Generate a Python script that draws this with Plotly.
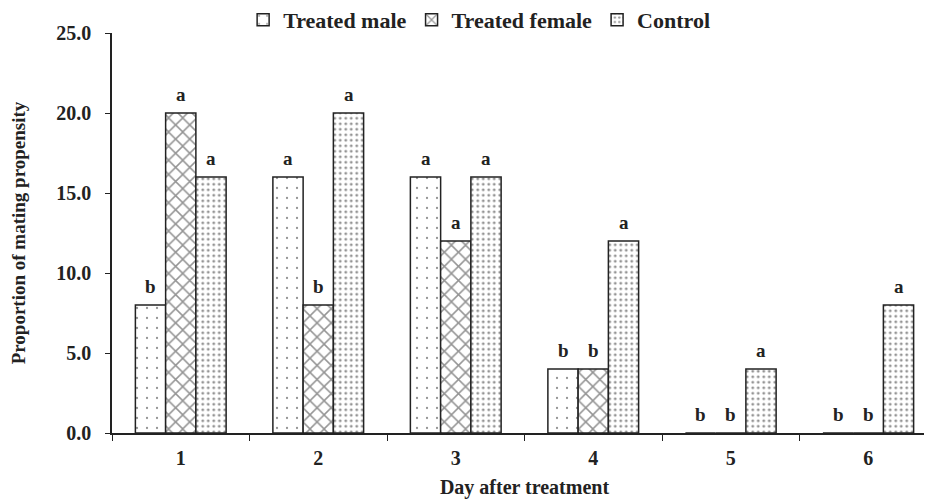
import plotly.graph_objects as go

days = ["1", "2", "3", "4", "5", "6"]
treated_male = [8, 16, 16, 4, 0, 0]
treated_female = [20, 8, 12, 4, 0, 0]
control = [16, 20, 16, 12, 4, 8]

male_letters = ["b", "a", "a", "b", "b", "b"]
female_letters = ["a", "b", "a", "b", "b", "b"]
control_letters = ["a", "a", "a", "a", "a", "a"]

y_ticks = [0, 5, 10, 15, 20, 25]

FONT = "Liberation Serif, Times New Roman, serif"
BARGAP = 0.34

series = [
    ("Treated male", treated_male, male_letters, dict(shape=".", size=10, solidity=0.04)),
    ("Treated female", treated_female, female_letters, dict(shape="x", size=10, solidity=0.28)),
    ("Control", control, control_letters, dict(shape=".", size=5.5, solidity=0.22)),
]

fig = go.Figure()
bar_w = (1 - BARGAP) / len(series)
annotations = []

for i, (name, vals, letters, pat) in enumerate(series):
    fig.add_trace(go.Bar(
        x=days, y=vals, name=name,
        marker=dict(
            color="white",
            line=dict(color="#222222", width=1.5),
            pattern=dict(fgcolor="#2a2a2a", bgcolor="white", fillmode="overlay", **pat),
        ),
    ))
    offset = (i - (len(series) - 1) / 2) * bar_w
    for j, (v, lab) in enumerate(zip(vals, letters)):
        annotations.append(dict(
            x=j + offset, y=v, xref="x", yref="y", text="<b>%s</b>" % lab,
            showarrow=False, yanchor="bottom", yshift=6,
            font=dict(family=FONT, size=19, color="#222222"),
        ))

# the page body adds an 8px offset, margins below allow for it
fig.update_layout(
    width=932, height=500,
    barmode="group", bargap=BARGAP, bargroupgap=0,
    plot_bgcolor="white", paper_bgcolor="white",
    margin=dict(l=104, r=3, t=25, b=75, autoexpand=False),
    font=dict(family=FONT, color="#222222"),
    annotations=annotations,
    legend=dict(
        orientation="h", x=0.445, xanchor="center",
        yref="container", y=0.976, yanchor="middle",
        font=dict(family=FONT, size=22, color="#222222", weight="bold"),
        itemwidth=30, traceorder="normal",
    ),
    xaxis=dict(
        type="category", range=[-0.5, 5.5], tickson="boundaries",
        ticks="outside", ticklen=6, tickcolor="#222222",
        showline=True, linecolor="#222222", linewidth=1.5,
        tickfont=dict(size=20, weight="bold"), automargin=False,
        ticklabelstandoff=6,
        title=dict(text="<b>Day after treatment</b>", font=dict(size=20), standoff=12),
    ),
    yaxis=dict(
        range=[0, 25], tickvals=y_ticks, tickformat=".1f",
        ticks="outside", ticklen=5, tickcolor="#222222",
        showline=True, linecolor="#222222", linewidth=1.5,
        showgrid=False, zeroline=False, automargin=False,
        tickfont=dict(size=20, weight="bold"), ticklabelstandoff=10,
        title=dict(text="<b>Proportion of mating propensity</b>", font=dict(size=19), standoff=36),
    ),
)

fig.write_html("out.html")
